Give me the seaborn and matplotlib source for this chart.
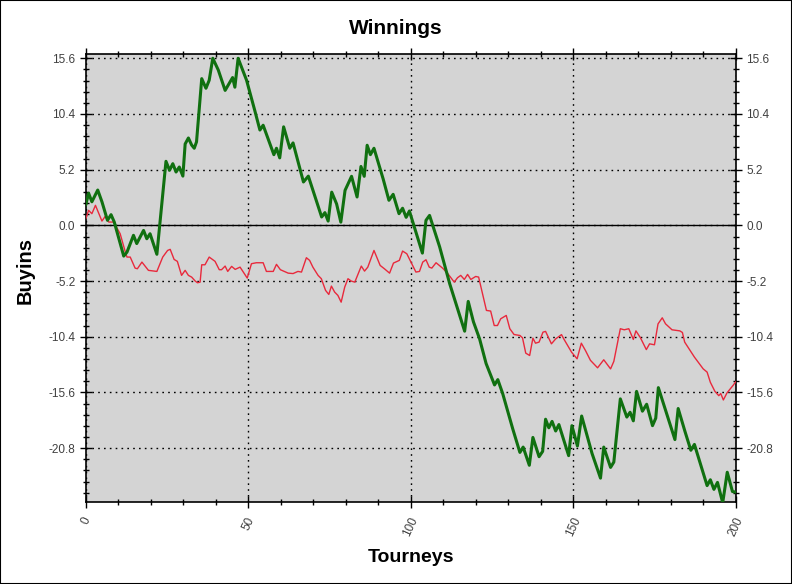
import matplotlib
matplotlib.use("Agg")
import matplotlib.pyplot as plt
from matplotlib.patches import Rectangle
from matplotlib.ticker import MultipleLocator, FixedLocator
import seaborn as sns
import pandas as pd

# ---- data ----
green_x = [0, 0.9, 1.9, 3.7, 5.0, 6.7, 7.8, 8.8, 11.7, 12.7, 14.7, 15.7, 17.8, 18.8, 19.8, 21.9,
           24.7, 25.8, 26.8, 27.8, 28.8, 29.9, 30.6, 31.6, 32.6, 33.4, 34.1, 35.7, 37.0, 38.0, 39.1,
           40.8, 42.9, 45.2, 45.9, 46.9, 49.5, 52.0, 53.6, 54.6, 57.9, 58.7, 59.7, 60.9, 62.8, 63.8,
           67.0, 68.5, 72.6, 73.6, 74.6, 75.7, 77.2, 78.5, 79.8, 81.8, 83.5, 84.7, 85.7, 86.6, 87.6,
           88.7, 91.5, 93.3, 94.6, 96.4, 97.5, 98.6, 99.6, 103.6, 104.7, 105.8, 108.9, 112.0, 116.6,
           117.7, 119.3, 121.2, 123.2, 125.8, 126.8, 128.3, 131.4, 133.6, 134.6, 136.5, 137.6, 139.5,
           140.6, 141.5, 142.5, 143.5, 144.6, 145.6, 148.6, 149.6, 151.3, 152.6, 155.8, 158.4, 159.4,
           161.5, 162.5, 164.5, 166.5, 167.5, 168.5, 169.5, 171.3, 172.6, 174.4, 175.4, 176.2, 181.3,
           182.3, 184.4, 186.2, 187.3, 191.2, 192.2, 193.3, 194.4, 196.0, 197.4, 199.0, 200]
green_y = [1.9, 3.0, 2.2, 3.3, 2.2, 0.47, 1.0, 0.3, -2.87, -2.5, -0.93, -1.7, -0.47, -1.25, -0.78, -2.7,
           5.98, 5.14, 5.76, 4.98, 5.45, 4.6, 7.6, 8.16, 7.5, 7.2, 7.8, 13.7, 12.8, 13.55, 15.6,
           14.5, 12.6, 13.8, 12.9, 15.6, 13.55, 10.75, 8.9, 9.35, 6.6, 7.2, 6.3, 9.2, 7.2, 7.7,
           4.05, 4.6, 0.78, 1.19, 0.4, 3.1, 2.0, 0.3, 3.27, 4.58, 2.65, 5.5, 4.58, 7.48, 6.6,
           7.2, 4.36, 2.34, 2.9, 1.09, 1.6, 0.75, 1.34, -2.59, 0.47, 0.93, -2.0, -5.45, -9.88,
           -7.1, -9.0, -10.6, -12.9, -14.9, -14.4, -15.7, -19.0, -21.2, -20.7, -22.4, -19.8, -21.6,
           -21.1, -18.1, -18.9, -18.3, -19.2, -18.6, -21.5, -18.7, -20.6, -17.8, -21.3, -23.6, -20.7,
           -22.6, -22.1, -16.2, -17.9, -17.45, -18.25, -15.5, -17.35, -16.7, -18.7, -18.0, -15.15, -20.0,
           -17.1, -19.25, -21.0, -20.45, -24.3, -23.75, -24.65, -24.0, -25.9, -23.05, -24.85, -24.9]

red_x = [0, 0.9, 1.9, 3.0, 5.0, 6.0, 7.1, 8.6, 10.6, 12.2, 12.7, 13.7, 15.2, 15.9, 17.3, 19.3, 21.9,
         23.7, 25.2, 26.0, 27.2, 28.2, 29.5, 30.6, 31.6, 32.6, 33.7, 34.4, 35.2, 35.7, 36.7, 38.0,
         39.8, 41.1, 41.8, 42.9, 43.7, 44.9, 46.0, 47.5, 48.5, 49.7, 51.0, 52.5, 54.6, 55.6, 57.7,
         58.7, 59.9, 62.3, 63.8, 65.3, 66.4, 67.9, 68.9, 69.9, 71.5, 72.5, 73.8, 74.8, 75.6, 76.6,
         77.6, 78.6, 79.7, 80.7, 81.7, 82.8, 84.8, 85.8, 86.8, 88.7, 90.6, 91.9, 93.5, 94.7, 96.5,
         97.5, 98.8, 100.6, 101.6, 102.7, 103.7, 104.7, 105.7, 106.5, 107.8, 109.8, 111.3, 113.4,
         114.4, 115.4, 116.5, 117.5, 118.5, 120.0, 120.9, 122.1, 123.3, 124.6, 125.7, 126.7, 127.7,
         129.4, 130.5, 131.8, 133.6, 134.4, 135.4, 136.6, 137.6, 138.4, 139.5, 140.7, 141.5, 143.3,
         144.6, 146.4, 147.1, 149.5, 151.2, 152.5, 153.8, 155.3, 157.5, 159.4, 161.5, 162.5, 164.5,
         165.7, 167.1, 168.5, 169.3, 170.7, 172.5, 173.5, 175.0, 176.1, 177.4, 178.4, 180.4, 182.8,
         183.6, 184.3, 187.3, 190.0, 191.2, 192.2, 193.6, 194.8, 195.4, 196.2, 197.3, 199.3, 200]
red_y = [0.6, 1.4, 1.09, 1.87, 0.4, 0.84, 0.31, 0.31, -0.78, -2.5, -2.96, -2.96, -3.99, -4.05, -3.43,
         -4.2, -4.3, -2.96, -2.34, -2.24, -3.18, -3.36, -4.67, -4.2, -4.67, -4.83, -5.2, -5.36, -5.3,
         -3.68, -3.68, -2.96, -3.36, -4.14, -4.14, -3.8, -4.3, -3.83, -4.11, -3.9, -4.36, -4.92, -3.58,
         -3.49, -3.49, -4.3, -4.3, -3.64, -4.14, -4.46, -4.5, -4.3, -4.36, -3.02, -3.27, -3.9, -4.67,
         -4.98, -6.07, -6.45, -5.67, -6.23, -6.54, -7.17, -5.76, -4.98, -5.2, -5.3, -3.8, -4.27, -3.9,
         -2.34, -3.74, -4.05, -4.46, -3.52, -3.27, -2.4, -2.65, -3.74, -4.36, -4.3, -3.43, -3.21, -3.9,
         -3.99, -3.49, -3.99, -4.46, -5.3, -4.89, -4.67, -5.05, -4.58, -5.05, -4.77, -4.83, -6.38,
         -7.94, -8.0, -9.35, -9.35, -8.72, -8.41, -9.65, -10.19, -10.28, -10.5, -11.93, -12.15, -10.53,
         -11.0, -10.9, -9.97, -9.9, -11.06, -10.6, -10.2, -10.6, -11.84, -12.46, -11.0, -11.7, -12.6,
         -13.3, -12.55, -13.4, -12.7, -9.65, -9.75, -9.65, -10.65, -9.85, -10.5, -11.6, -11.06, -11.15,
         -9.2, -8.63, -9.19, -9.75, -9.85, -10.0, -10.9, -12.3, -13.4, -13.7, -14.65, -15.5, -15.9,
         -15.7, -16.3, -15.65, -14.9, -14.6]

y_ticks = [15.6, 10.4, 5.2, 0.0, -5.2, -10.4, -15.6, -20.8]
x_ticks = [0, 50, 100, 150, 200]

title = "Winnings"
x_label = "Tourneys"
y_label = "Buyins"

# ---- styling ----
sns.set_style("white")
plt.rcParams["font.family"] = ["Liberation Sans", "DejaVu Sans"]
plt.rcParams["text.color"] = "black"

fig = plt.figure(figsize=(7.92, 5.84), dpi=100, facecolor="white")
ax = fig.add_axes([85.7 / 792, 1 - 501.7 / 584, 650 / 792, (501.7 - 54) / 584])
ax.set_facecolor("#d4d4d4")

df_g = pd.DataFrame({"x": green_x, "y": green_y})
df_r = pd.DataFrame({"x": red_x, "y": red_y})
sns.lineplot(data=df_r, x="x", y="y", ax=ax, color="#e8293c", linewidth=1.0,
             estimator=None, sort=False, zorder=3)
sns.lineplot(data=df_g, x="x", y="y", ax=ax, color="#107010", linewidth=2.2,
             estimator=None, sort=False, zorder=4)

ax.set_xlim(0, 200)
ax.set_ylim(-25.8, 16.0)

ax.xaxis.set_major_locator(FixedLocator(x_ticks))
ax.xaxis.set_minor_locator(MultipleLocator(10))
ax.yaxis.set_major_locator(FixedLocator(y_ticks))
ax.yaxis.set_minor_locator(MultipleLocator(1.04))
ax.set_yticklabels([f"{v:.1f}" for v in y_ticks])
ax.set_xticklabels([str(v) for v in x_ticks])

ax.grid(True, which="major", color="black", linestyle=(0, (1.2, 3)), linewidth=1.0, zorder=1)
ax.axhline(0, color="black", linewidth=1.0, zorder=2)
ax.set_axisbelow(True)

ax.tick_params(axis="both", which="major", direction="inout", length=8, width=1,
               labelsize=8.5, labelcolor="#404040", color="black")
ax.tick_params(axis="both", which="minor", direction="inout", length=5, width=1, color="black")
ax.tick_params(axis="y", which="both", left=True, right=True, labelleft=True, labelright=True)
ax.tick_params(axis="x", which="both", bottom=True, top=True, labelbottom=True, labeltop=False)
ax.tick_params(axis="x", which="major", pad=6)

for lbl in ax.get_xticklabels():
    lbl.set_rotation(65)
    lbl.set_ha("center")
    lbl.set_va("top")

for s in ax.spines.values():
    s.set_color("black")
    s.set_linewidth(1.2)

ax.set_xlabel(x_label, fontsize=14, fontweight="bold", color="black")
ax.set_ylabel(y_label, fontsize=14.5, fontweight="bold", color="black")
ax.xaxis.set_label_coords(0.5, -0.105)
ax.yaxis.set_label_coords(-0.078, 0.517)

fig.text(0.5, 1 - 28 / 584, title, fontsize=15, fontweight="bold", ha="center", va="center",
         color="black")

fig.patches.append(Rectangle((0, 0), 1, 1, transform=fig.transFigure, fill=False,
                             edgecolor="black", linewidth=1.5))

fig.savefig("out.png", dpi=100, facecolor="white")
